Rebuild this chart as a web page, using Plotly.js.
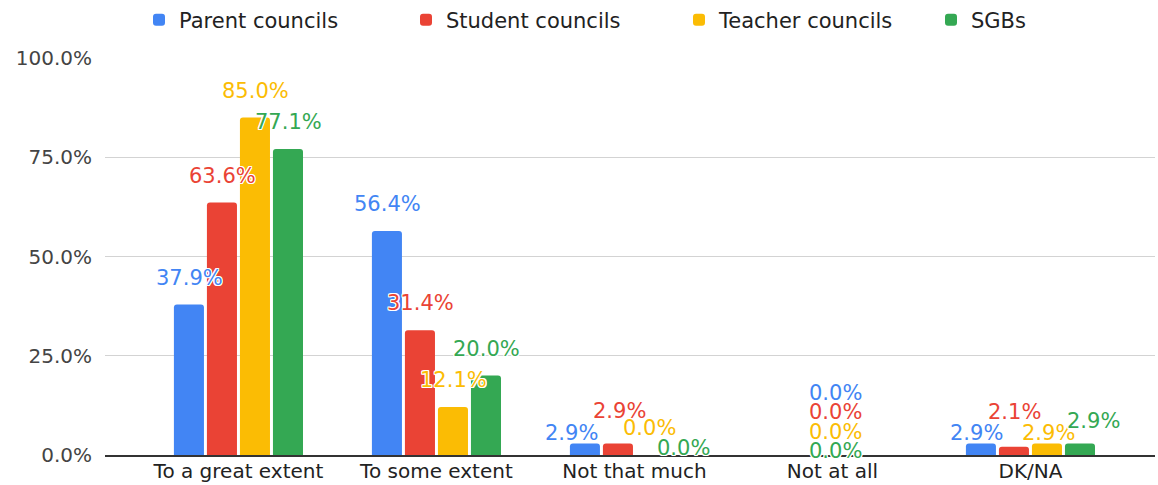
<!DOCTYPE html>
<html>
<head>
<meta charset="utf-8">
<script src="https://cdn.plot.ly/plotly-3.0.1.min.js"></script>
<style>
html,body{margin:0;padding:0;background:#fff;}
#chart{width:1158px;height:485px;}
</style>
</head>
<body>
<div id="chart"></div>
<script>
// ---- data ----
const categories = ["To a great extent", "To some extent", "Not that much", "Not at all", "DK/NA"];
const seriesNames = ["Parent councils", "Student councils", "Teacher councils", "SGBs"];
const parentCouncils = [37.9, 56.4, 2.9, 0.0, 2.9];
const studentCouncils = [63.6, 31.4, 2.9, 0.0, 2.1];
const teacherCouncils = [85.0, 12.1, 0.0, 0.0, 2.9];
const sgbs = [77.1, 20.0, 0.0, 0.0, 2.9];
const yTicks = [0, 25, 50, 75, 100];

// ---- style / label placement (pixel offsets from each bar's top centre) ----
const colors = ["#4285F4", "#EA4335", "#FBBC04", "#34A853"];
const legendWidths = [222, 228, 207, null];
const labelDx = [
  [1, 1, -13, 52.5, -4],
  [1, 1, 1.5, 19.5, 0.5],
  [1, 1, -1, -13.5, 2],
  [1, 1, 0, -46.5, 14]
];
const labelDy = [
  [27, 27, 10, 62, 10],
  [27, 27, 32.5, 43, 35],
  [27, 27, 27, 23, 10],
  [27, 27, 7.5, 4, 22]
];

const seriesValues = [parentCouncils, studentCouncils, teacherCouncils, sgbs];
const FONT = "DejaVu Sans, Arial, sans-serif";
const catWidthPx = 198;
const barGap = 0.333;
const slotPx = catWidthPx * (1 - barGap) / seriesValues.length;

const traces = seriesValues.map((vals, i) => {
  const t = {
    type: "bar",
    name: seriesNames[i],
    x: categories,
    y: vals,
    marker: {color: colors[i], cornerradius: 3},
    hoverinfo: "skip"
  };
  if (legendWidths[i]) t.legendwidth = legendWidths[i];
  return t;
});

const halo = "1px 1px 0 #fff, -1px -1px 0 #fff, 1px -1px 0 #fff, -1px 1px 0 #fff, 0 1px 0 #fff, 0 -1px 0 #fff, 1px 0 0 #fff, -1px 0 0 #fff";
const annotations = [];
seriesValues.forEach((vals, i) => {
  vals.forEach((v, j) => {
    annotations.push({
      x: categories[j], y: v, xref: "x", yref: "y",
      text: v.toFixed(1) + "%",
      showarrow: false,
      xanchor: "center", yanchor: "middle",
      xshift: (i - (seriesValues.length - 1) / 2) * slotPx + labelDx[i][j],
      yshift: labelDy[i][j],
      font: {family: FONT, size: 21, color: colors[i], shadow: halo}
    });
  });
});

const layout = {
  width: 1158, height: 485,
  margin: {l: 105, r: 3, t: 58, b: 30},
  paper_bgcolor: "#fff", plot_bgcolor: "#fff",
  barmode: "group",
  bargap: barGap,
  bargroupgap: 0.09,
  showlegend: true,
  legend: {
    orientation: "h",
    xref: "container", yref: "container",
    x: 139 / 1158, xanchor: "left",
    y: 1 - 20 / 485, yanchor: "middle",
    font: {family: FONT, size: 21, color: "#222"},
    traceorder: "normal"
  },
  xaxis: {
    type: "category",
    range: [-0.674, 4.629],
    showgrid: false,
    showline: true, linecolor: "#333", linewidth: 1.5,
    ticks: "",
    ticklabelstandoff: -3,
    tickfont: {family: FONT, size: 20, color: "#222"},
    fixedrange: true
  },
  yaxis: {
    range: [0, 100],
    tickvals: yTicks,
    ticktext: yTicks.map(t => t.toFixed(1) + "%"),
    showgrid: true, gridcolor: "#d3d3d3", gridwidth: 1,
    zeroline: false,
    showline: false,
    ticks: "",
    ticklabelstandoff: 12,
    tickfont: {family: FONT, size: 20, color: "#444"},
    fixedrange: true
  },
  annotations: annotations,
  hovermode: false
};

Plotly.newPlot("chart", traces, layout, {displayModeBar: false, staticPlot: true});
</script>
</body>
</html>
